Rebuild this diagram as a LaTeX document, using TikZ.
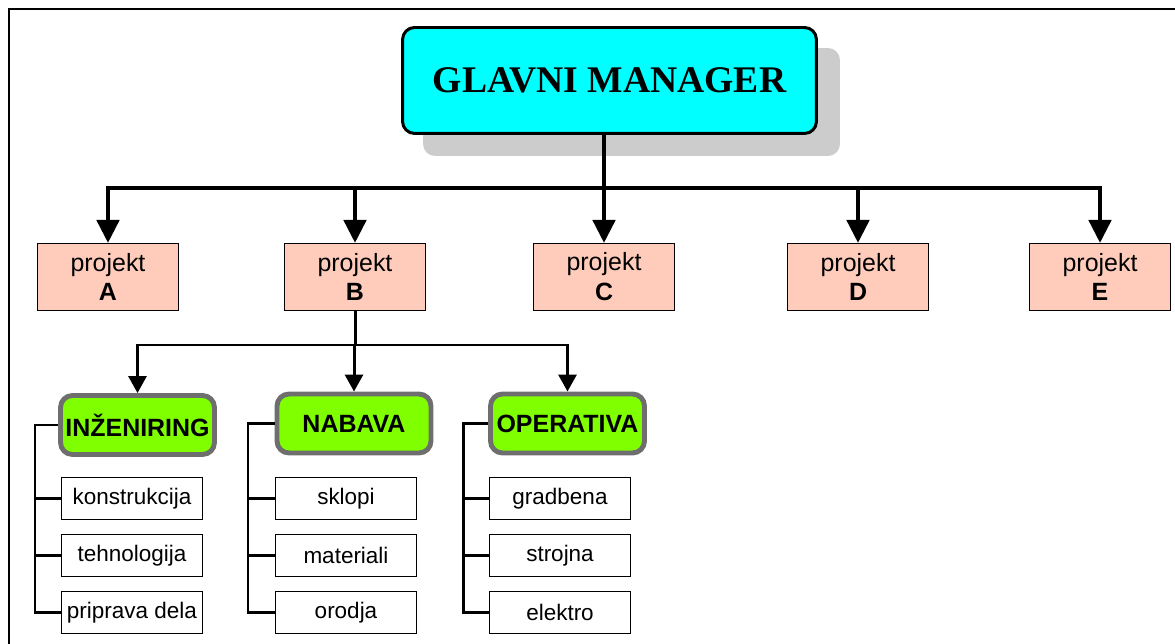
\documentclass[tikz,border=0pt]{standalone}
\usepackage{fontspec}
\setmainfont{Liberation Sans}
\newfontfamily\titlefont{Liberation Serif}
\usetikzlibrary{arrows.meta}

\definecolor{mgrcyan}{HTML}{00FFFF}
\definecolor{projpeach}{HTML}{FFCCBB}
\definecolor{deptgreen}{HTML}{80FF00}
\definecolor{deptrim}{HTML}{6E6E6E}
\definecolor{shadowgray}{HTML}{CCCCCC}
\tikzset{
    om frame/.style={line width=1pt, black},
    om mgr/.style={rounded corners=0.24cm, draw=black, line width=1.7pt,
                   fill=mgrcyan, minimum width=8.28cm, minimum height=2.12cm,
                   font=\titlefont\bfseries\fontsize{21.4}{24}\selectfont},
    om shadow/.style={rounded corners=0.24cm, fill=shadowgray,
                      minimum width=8.34cm, minimum height=2.16cm},
    om proj/.style={draw=black, line width=0.6pt, fill=projpeach,
                    minimum width=2.82cm, minimum height=1.34cm, inner sep=0pt,
                    align=center, font=\fontsize{14.2}{17}\selectfont},
    om dept/.style={rounded corners=0.24cm, draw=deptrim, line width=2.8pt,
                    fill=deptgreen, minimum width=3.08cm, minimum height=1.18cm,
                    inner sep=0pt, font=\bfseries\fontsize{14.2}{17}\selectfont},
    om task/.style={draw=black, line width=0.6pt, fill=white,
                    minimum width=2.82cm, minimum height=0.84cm, inner sep=0pt,
                    font=\fontsize{12.8}{15}\selectfont},
    % Connectors
    om link/.style={line width=2.7pt, -{Triangle[width=0.44cm, length=0.46cm]}},
    om sublink/.style={line width=1.7pt, -{Triangle[width=0.36cm, length=0.34cm]}},
    om bracket/.style={line width=1.7pt},
}

\begin{document}
\begin{tikzpicture}[x=0.02cm, y=-0.02cm]
    \useasboundingbox (0,0) rectangle (1175,644);
    % Outer frame (cut by the page)
    \draw[om frame] (9,644) -- (9,9) -- (1175,9);
    % Top manager with shadow
    \node[om shadow] (mgrshadow) at (631.5,102) {};
    \node[om mgr] (mgr) at (609.5,80.5) {GLAVNI MANAGER};
    % Projects
    \node[om proj] (pa) at (108,277) {projekt\\\textbf{A}};
    \node[om proj] (pb) at (355,277) {projekt\\\textbf{B}};
    \node[om proj] (pc) at (604,277) {projekt\\\textbf{C}};
    \node[om proj] (pd) at (858,277) {projekt\\\textbf{D}};
    \node[om proj] (pe) at (1100,277) {projekt\\\textbf{E}};
    % Departments of project B
    \node[om dept] (ing) at (137.5,425) {INŽENIRING};
    \node[om dept] (nab) at (354,423.5) {NABAVA};
    \node[om dept] (ope) at (567.5,423.5) {OPERATIVA};
    % Tasks
    \node[om task] (ing1) at (132,498.5) {konstrukcija};
    \node[om task] (ing2) at (132,555.5) {tehnologija};
    \node[om task] (ing3) at (132,612.5) {priprava dela};
    \node[om task] (nab1) at (346,498.5) {sklopi};
    \node[om task] (nab2) at (346,555.5) {materiali};
    \node[om task] (nab3) at (346,612.5) {orodja};
    \node[om task] (ope1) at (560,498.5) {gradbena};
    \node[om task] (ope2) at (560,555.5) {strojna};
    \node[om task] (ope3) at (560,612.5) {elektro};
    % Branch points
    \coordinate (bus) at (604,188);
    \coordinate (subbus) at (355,345);
    \coordinate (ingx) at (35,425);
    \coordinate (nabx) at (248,423.5);
    \coordinate (opex) at (463,423.5);
    % Manager to projects
    \foreach \p in {pa,pb,pc,pd,pe}
        \draw[om link] (bus |- mgr.south) -- (bus) -| (\p.north);
    % Project B to departments
    \foreach \d in {ing,nab,ope}
        \draw[om sublink] (pb.south) -- (subbus) -| (\d.north);
    % Department brackets
    \foreach \d in {ing,nab,ope} {
        \draw[om bracket] (\d.west) -- (\d x) |- (\d3.west);
        \draw[om bracket] (\d1.west -| \d x) -- (\d1.west);
        \draw[om bracket] (\d2.west -| \d x) -- (\d2.west);
    }
\end{tikzpicture}
\end{document}
